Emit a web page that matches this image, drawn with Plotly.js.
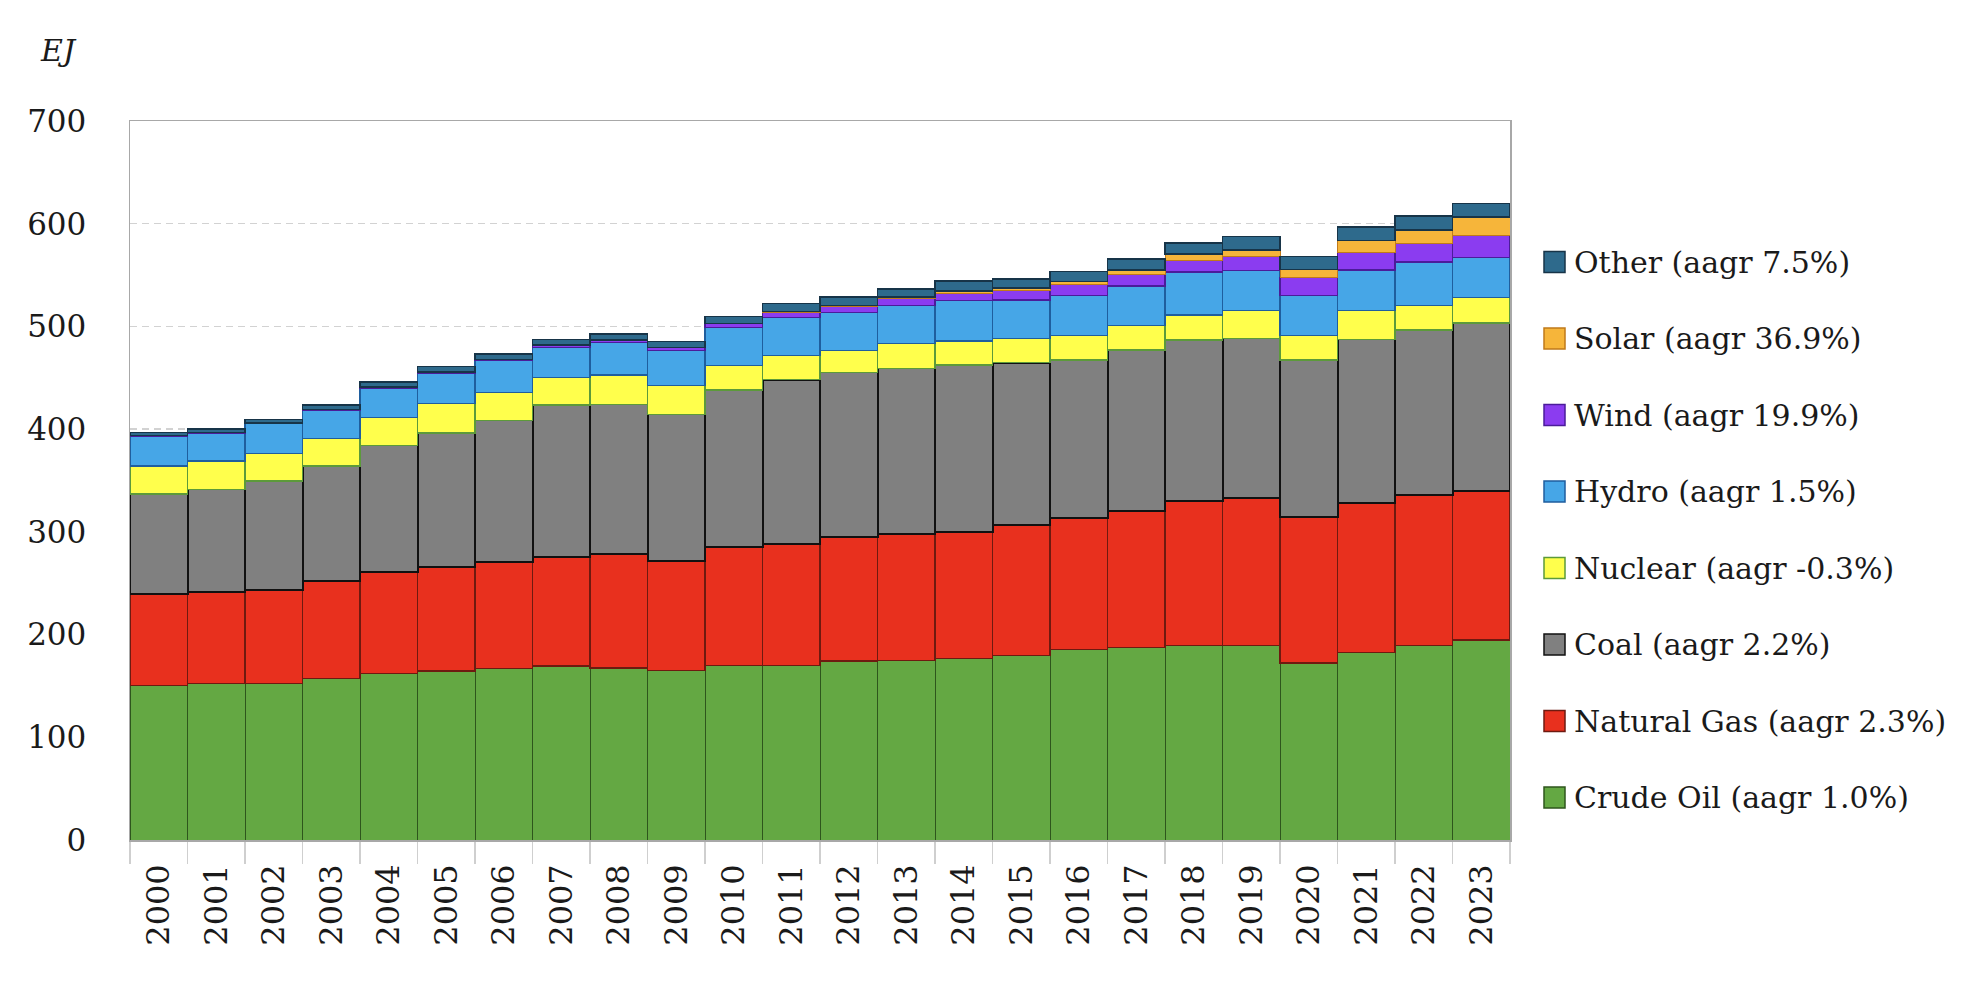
<!DOCTYPE html>
<html>
<head>
<meta charset="utf-8">
<script src="https://cdn.plot.ly/plotly-3.0.1.min.js"></script>
<style>
  html, body { margin: 0; padding: 0; background: #ffffff; }
  #chart { width: 1972px; height: 990px; }
</style>
</head>
<body>
<div id="chart"></div>
<script>
// ---- Data (EJ) ----
const years = ['2000','2001','2002','2003','2004','2005','2006','2007','2008','2009','2010','2011',
               '2012','2013','2014','2015','2016','2017','2018','2019','2020','2021','2022','2023'];

const crudeOil   = [150.2,152.2,152.2,157.4,162.3,164.5,167.1,169.4,167.5,165.2,169.7,169.7,
                    174.3,174.9,176.9,179.8,185.3,187.3,189.6,189.6,172.3,182.4,189.6,194.7];
const naturalGas = [89.3,89.3,91.5,94.4,98.6,101.6,103.6,106.5,111.0,106.1,115.9,118.2,
                    121.0,122.7,123.3,126.9,128.0,132.9,140.8,143.1,141.9,145.6,146.3,145.1];
const coal       = [97.4,99.9,105.8,112.3,123.3,130.2,137.9,147.7,145.5,143.1,152.5,160.3,
                    159.9,161.6,162.3,158.0,154.0,156.9,156.4,155.7,153.1,159.5,160.7,163.6];
const nuclear    = [27.2,27.6,27.0,27.0,26.8,28.9,26.9,26.9,28.7,28.2,23.9,23.3,
                    21.6,24.4,23.3,23.7,23.9,23.6,24.4,26.8,24.0,28.0,23.9,25.0];
const hydro      = [29.2,27.0,28.8,26.9,28.6,29.2,31.0,29.3,31.3,34.0,37.3,37.5,
                    37.1,37.1,39.6,37.4,39.0,38.7,41.8,39.0,39.2,39.5,42.3,38.7];
const wind       = [0.4,0.5,0.6,1.0,1.2,1.3,1.5,2.0,2.5,2.8,3.4,4.6,
                    5.6,6.4,7.0,9.2,10.3,11.4,11.6,14.2,16.9,17.0,17.8,21.6];
const solar      = [0.01,0.01,0.02,0.02,0.03,0.04,0.05,0.07,0.1,0.2,0.35,0.7,
                    1.1,1.4,2.0,2.5,3.2,4.2,5.7,6.0,7.8,11.5,13.5,17.6];
const other      = [3.2,3.5,3.7,4.6,5.0,5.1,5.0,5.6,5.9,5.5,6.4,7.8,
                    8.0,8.0,9.6,8.8,10.0,10.7,10.7,13.0,13.0,13.5,13.4,13.6];

const seriesNames = ['Crude Oil (aagr 1.0%)','Natural Gas (aagr 2.3%)','Coal (aagr 2.2%)',
                     'Nuclear (aagr -0.3%)','Hydro (aagr 1.5%)','Wind (aagr 19.9%)',
                     'Solar (aagr 36.9%)','Other (aagr 7.5%)'];
const yTickVals = [0,100,200,300,400,500,600,700];
const unitLabel = 'EJ';

// ---- Styles ----
const seriesValues = [crudeOil, naturalGas, coal, nuclear, hydro, wind, solar, other];
const fills  = ['#64A843','#E8301E','#808080','#FFFF4C','#46A6E7','#8B3CF0','#F6B53A','#2E6A8C'];
const edges  = ['#2E561C','#6E1A10','#111111','#5C9A3A','#1F5E9E','#4B1C9A','#C07A1A','#173448'];
const edgeW  = [1, 1.2, 2, 1.2, 1.2, 1.2, 1, 1.5];

const FONT = 'DejaVu Serif, Liberation Serif, serif';

const traces = seriesValues.map((vals, i) => ({
  type: 'bar',
  name: seriesNames[i],
  x: years,
  y: vals,
  marker: { color: fills[i], line: { color: edges[i], width: edgeW[i] } },
  showlegend: false,
  hoverinfo: 'x+y+name'
}));

// ---- Plot area geometry (pixels) ----
const W = 1972, H = 990;
const L = 130, R = 1510, T = 121, B = 840;
const pw = R - L, ph = B - T;
const px = v => (v - L) / pw;
const py = v => (B - v) / ph;

// ---- Custom legend (top entry = last series) ----
const shapes = [];
const annotations = [];
const legStartY = 262, legStep = 76.5;
for (let k = 0; k < seriesNames.length; k++) {
  const i = seriesNames.length - 1 - k;
  const cy = legStartY + k * legStep;
  shapes.push({
    type: 'rect', xref: 'paper', yref: 'paper',
    x0: px(1544), x1: px(1565), y0: py(cy + 10.5), y1: py(cy - 10.5),
    fillcolor: fills[i], line: { color: edges[i], width: 1.5 }
  });
  annotations.push({
    xref: 'paper', yref: 'paper', x: px(1572), y: py(cy),
    xanchor: 'left', yanchor: 'middle', showarrow: false,
    text: seriesNames[i],
    font: { family: FONT, size: 30, color: '#1a1a1a' }
  });
}
annotations.push({
  xref: 'paper', yref: 'paper', x: px(38), y: py(51),
  xanchor: 'left', yanchor: 'middle', showarrow: false,
  text: '<i>' + unitLabel + '</i>',
  font: { family: FONT, size: 30, color: '#1a1a1a' }
});

const layout = {
  width: W, height: H,
  margin: { l: L, r: W - R, t: T, b: H - B, pad: 0 },
  paper_bgcolor: '#ffffff',
  plot_bgcolor: '#ffffff',
  barmode: 'stack',
  bargap: 0,
  showlegend: false,
  font: { family: FONT, size: 30, color: '#1a1a1a' },
  xaxis: {
    type: 'category',
    tickson: 'boundaries',
    ticks: 'outside', ticklen: 22, tickcolor: '#cfcfcf', tickwidth: 1.2,
    tickangle: -90,
    ticklabelstandoff: 10,
    tickfont: { family: FONT, size: 32, color: '#1a1a1a' },
    showgrid: false,
    showline: true, mirror: true, linecolor: '#a8a8a8', linewidth: 1.5,
    fixedrange: true
  },
  yaxis: {
    range: [0, 700],
    tickvals: yTickVals,
    ticktext: yTickVals.map(String),
    ticks: '',
    ticklabelstandoff: 36,
    tickfont: { family: FONT, size: 31, color: '#1a1a1a' },
    showgrid: true, gridcolor: '#d2d2d2', gridwidth: 1.5, griddash: '7px,5px',
    zeroline: false,
    showline: true, mirror: true, linecolor: '#a8a8a8', linewidth: 1.5,
    fixedrange: true
  },
  shapes: shapes,
  annotations: annotations
};

Plotly.newPlot('chart', traces, layout, { displayModeBar: false, staticPlot: true });
</script>
</body>
</html>
